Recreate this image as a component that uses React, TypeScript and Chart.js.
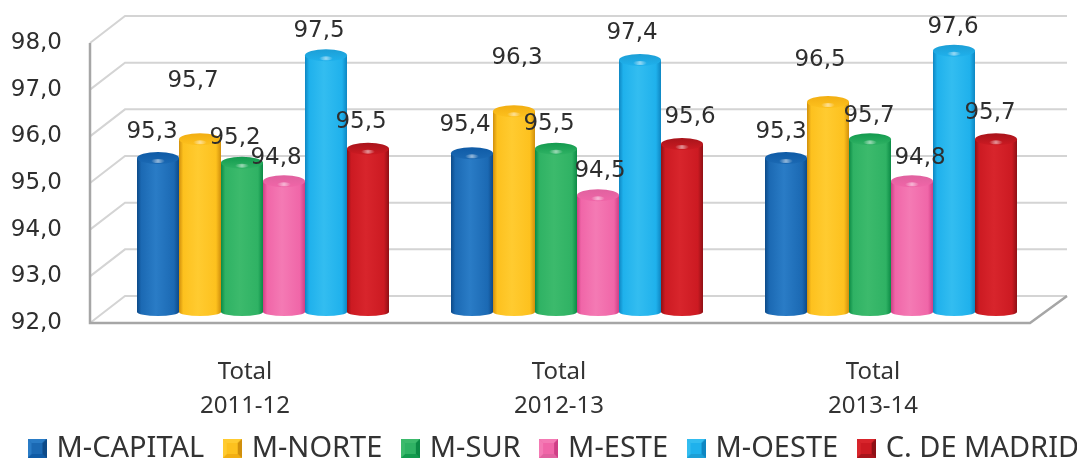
import React, { useEffect, useRef } from "react";
import { Chart, registerables } from "chart.js";

Chart.register(...registerables);

const categories = [["Total", "2011-12"], ["Total", "2012-13"], ["Total", "2013-14"]];
const capital = [95.3, 95.4, 95.3];
const norte = [95.7, 96.3, 96.5];
const sur = [95.2, 95.5, 95.7];
const este = [94.8, 94.5, 94.8];
const oeste = [97.5, 97.4, 97.6];
const madrid = [95.5, 95.6, 95.7];

const seriesStyles = [
  { label: "M-CAPITAL", data: capital, color: "#1b69b3", edge: "#0d4a88", light: "#2a7cc6", top: "#0f5ba6" },
  { label: "M-NORTE", data: norte, color: "#fdc11e", edge: "#d08f0c", light: "#ffcb30", top: "#f2ae12" },
  { label: "M-SUR", data: sur, color: "#2fb264", edge: "#0b8a45", light: "#3cba6c", top: "#139a4e" },
  { label: "M-ESTE", data: este, color: "#f066a8", edge: "#cf3f86", light: "#f47ab4", top: "#e0619f" },
  { label: "M-OESTE", data: oeste, color: "#1fb1ec", edge: "#0e86c2", light: "#33bdf0", top: "#1d9fd6" },
  { label: "C. DE MADRID", data: madrid, color: "#cc1a22", edge: "#8e1015", light: "#d8252c", top: "#a8141b" },
];

const labelNudgeX = [[-6, -7, -5], [-7, 3, -8], [-7, -7, -1], [-8, 2, 8], [-7, -8, -1], [-7, 8, -6]];
const labelNudgeY = [[-26, -28, -26], [-58, -53, -42], [-25, -25, -23], [-23, -24, -23], [-24, -27, -24], [-27, -27, -26]];

function makeIcon(s: { color: string; edge: string; light: string; top: string }) {
  const c = document.createElement("canvas");
  c.width = 19;
  c.height = 19;
  const g = c.getContext("2d")!;
  g.fillStyle = s.color;
  g.fillRect(0, 0, 19, 19);
  const tri = (pts: number[][], col: string) => {
    g.fillStyle = col;
    g.beginPath();
    pts.forEach((p, i) => (i ? g.lineTo(p[0], p[1]) : g.moveTo(p[0], p[1])));
    g.closePath();
    g.fill();
  };
  tri([[0, 0], [19, 0], [15, 4], [4, 4]], s.light);
  tri([[0, 19], [19, 19], [15, 15], [4, 15]], s.top);
  tri([[0, 0], [4, 4], [4, 15], [0, 19]], s.light);
  tri([[19, 0], [15, 4], [15, 15], [19, 19]], s.edge);
  return c;
}

const wallPlugin = {
  id: "wall",
  beforeLayout(chart: any) {
    const lg = chart.legend;
    if (!lg.__fitted) {
      const fit = lg.fit.bind(lg);
      lg.fit = () => {
        fit();
        lg.height = 32;
      };
      lg.__fitted = true;
    }
  },
  afterLayout(chart: any) {
    chart.legend.left = 9;
    chart.legend.right = 1300;
    chart.legend.top = 411;
  },
  beforeDatasetsDraw(chart: any) {
    const { ctx, scales } = chart;
    const y = scales.y;
    const front = 11, back = -16;
    const xFront = 90, xBack = 125, xRight = 1067, xFloor = 1030;
    ctx.save();
    ctx.lineWidth = 2;
    ctx.strokeStyle = "#d4d4d4";
    y.ticks.forEach((t: any) => {
      const p = y.getPixelForValue(t.value);
      ctx.beginPath();
      ctx.moveTo(xFront, p + front);
      ctx.lineTo(xBack, p + back);
      ctx.lineTo(xRight, p + back);
      ctx.stroke();
    });
    const p0 = y.getPixelForValue(92), p1 = y.getPixelForValue(98);
    ctx.strokeStyle = "#a6a6a6";
    ctx.lineWidth = 2.5;
    ctx.beginPath();
    ctx.moveTo(xFront, p1 + front);
    ctx.lineTo(xFront, p0 + front);
    ctx.lineTo(xFloor, p0 + front);
    ctx.lineTo(xRight, p0 + back);
    ctx.stroke();
    ctx.restore();
  },
};

const cylinderPlugin = {
  id: "cylinder",
  afterDatasetDraw(chart: any, args: any) {
    const { ctx } = chart;
    const s = seriesStyles[args.index];
    const meta = chart.getDatasetMeta(args.index);
    meta.data.forEach((bar: any) => {
      const w = bar.width;
      const l = bar.x - w / 2;
      const r = bar.x + w / 2;
      const rx = w / 2;
      const g = ctx.createLinearGradient(l, 0, r, 0);
      g.addColorStop(0, s.edge);
      g.addColorStop(0.1, s.color);
      g.addColorStop(0.45, s.light);
      g.addColorStop(0.88, s.color);
      g.addColorStop(1, s.edge);
      ctx.save();
      ctx.fillStyle = g;
      ctx.beginPath();
      ctx.moveTo(l, bar.y);
      ctx.lineTo(l, bar.base);
      ctx.ellipse(bar.x, bar.base, rx, 4, 0, Math.PI, 0, true);
      ctx.lineTo(r, bar.y);
      ctx.closePath();
      ctx.fill();
      const capFill = ctx.createLinearGradient(0, bar.y - 6, 0, bar.y + 6);
      capFill.addColorStop(0, s.top);
      capFill.addColorStop(1, s.color);
      ctx.fillStyle = capFill;
      ctx.beginPath();
      ctx.ellipse(bar.x, bar.y, rx, 6, 0, 0, Math.PI * 2);
      ctx.fill();
      const hi = ctx.createRadialGradient(bar.x, bar.y + 3, 0, bar.x, bar.y + 3, 7);
      hi.addColorStop(0, "rgba(255,255,255,0.55)");
      hi.addColorStop(1, "rgba(255,255,255,0)");
      ctx.fillStyle = hi;
      ctx.beginPath();
      ctx.ellipse(bar.x, bar.y + 3, 7, 2, 0, 0, Math.PI * 2);
      ctx.fill();
      ctx.restore();
    });
  },
  afterDatasetsDraw(chart: any) {
    const { ctx } = chart;
    ctx.save();
    ctx.font = '23px "DejaVu Sans"';
    ctx.fillStyle = "#2e2e2e";
    ctx.textAlign = "center";
    ctx.textBaseline = "middle";
    seriesStyles.forEach((s, i) => {
      chart.getDatasetMeta(i).data.forEach((bar: any, j: number) => {
        const text = s.data[j].toFixed(1).replace(".", ",");
        ctx.fillText(text, bar.x + labelNudgeX[i][j], bar.y + labelNudgeY[i][j]);
      });
    });
    ctx.restore();
  },
};

export default function App() {
  const ref = useRef<HTMLCanvasElement>(null);
  useEffect(() => {
    const icons = seriesStyles.map(makeIcon);
    const chart = new Chart(ref.current!, {
      type: "bar",
      data: {
        labels: categories as any,
        datasets: seriesStyles.map((s) => ({
          label: s.label,
          data: s.data,
          base: 92,
          backgroundColor: s.color,
          categoryPercentage: 0.8025,
          barPercentage: 1,
        })),
      },
      plugins: [wallPlugin, cylinderPlugin],
      options: {
        responsive: false,
        animation: false,
        layout: { padding: { left: 4, right: 0, top: 32, bottom: 2 } },
        scales: {
          x: {
            grid: { display: false, tickLength: 43 },
            border: { display: false },
            ticks: {
              color: "#333333",
              padding: 0,
              maxRotation: 0,
              labelOffset: -18,
              font: { family: '"Noto Sans"', size: 24, lineHeight: 1.42 },
            },
            afterFit: (s: any) => {
              s.height = 114;
            },
          },
          y: {
            min: 92,
            max: 98,
            grid: { display: false, tickLength: 44 },
            border: { display: false },
            afterFit: (s: any) => {
              s.width = 102;
            },
            ticks: {
              stepSize: 1,
              color: "#2e2e2e",
              padding: 0,
              labelOffset: 11,
              font: { family: '"DejaVu Sans"', size: 23 },
              callback: (v: any) => Number(v).toFixed(1).replace(".", ","),
            },
          },
          y2: {
            position: "right",
            display: true,
            grid: { display: false },
            border: { display: false },
            ticks: { display: false },
            afterFit: (s: any) => {
              s.width = 29;
            },
          },
        },
        plugins: {
          tooltip: { enabled: false },
          title: { display: false },
          legend: {
            position: "bottom",
            align: "start",
            labels: {
              usePointStyle: true,
              pointStyleWidth: 10,
              padding: 23,
              color: "#333333",
              font: { family: '"Noto Sans"', size: 29 },
              generateLabels: () =>
                seriesStyles.map((s, i) => ({
                  text: s.label,
                  fillStyle: s.color,
                  strokeStyle: s.color,
                  lineWidth: 0,
                  pointStyle: icons[i],
                  datasetIndex: i,
                  hidden: false,
                  fontColor: "#333333",
                })),
            },
          },
        },
      } as any,
    });
    return () => chart.destroy();
  }, []);
  return (
    <div style={{ position: "absolute", left: 0, top: 0, background: "#fff" }}>
      <canvas ref={ref} width={1077} height={460} style={{ display: "block" }} />
    </div>
  );
}
